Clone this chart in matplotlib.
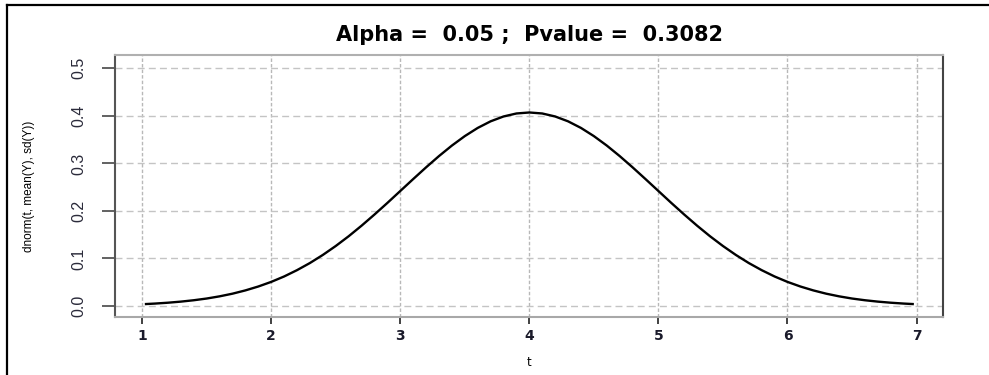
import numpy as np
import matplotlib
matplotlib.use("Agg")
import matplotlib.pyplot as plt
from matplotlib.lines import Line2D

# values (dnorm(t, mean(Y), sd(Y)))
t_vals = [1.03, 1.1, 1.2, 1.3, 1.4, 1.5, 1.6, 1.7, 1.8, 1.9, 2.0, 2.1, 2.2, 2.3, 2.4, 2.5,
          2.6, 2.7, 2.8, 2.9, 3.0, 3.1, 3.2, 3.3, 3.4, 3.5, 3.6, 3.7, 3.8, 3.9, 4.0,
          4.1, 4.2, 4.3, 4.4, 4.5, 4.6, 4.7, 4.8, 4.9, 5.0, 5.1, 5.2, 5.3, 5.4, 5.5,
          5.6, 5.7, 5.8, 5.9, 6.0, 6.1, 6.2, 6.3, 6.4, 6.5, 6.6, 6.7, 6.8, 6.9, 6.97]
dens = [0.0041, 0.0051, 0.0069, 0.0092, 0.0121, 0.0157, 0.0203, 0.0259, 0.0328, 0.0410,
        0.0507, 0.0621, 0.0754, 0.0904, 0.1074, 0.1262, 0.1467, 0.1689, 0.1924, 0.2168,
        0.2419, 0.2670, 0.2917, 0.3154, 0.3375, 0.3574, 0.3746, 0.3885, 0.3987, 0.4050,
        0.4071,
        0.4050, 0.3987, 0.3885, 0.3746, 0.3574, 0.3375, 0.3154, 0.2917, 0.2670, 0.2419,
        0.2168, 0.1924, 0.1689, 0.1467, 0.1262, 0.1074, 0.0904, 0.0754, 0.0621, 0.0507,
        0.0410, 0.0328, 0.0259, 0.0203, 0.0157, 0.0121, 0.0092, 0.0069, 0.0051, 0.0041]

x_ticks = [1, 2, 3, 4, 5, 6, 7]
y_ticks = [0.0, 0.1, 0.2, 0.3, 0.4, 0.5]
y_ticklabels = ["0.0", "0.1", "0.2", "0.3", "0.4", "0.5"]

alpha = 0.05
pvalue = 0.3082

narrow = ["Liberation Sans Narrow", "Liberation Sans", "DejaVu Sans"]

fig = plt.figure(figsize=(9.89, 3.75), dpi=100)
ax = fig.add_axes([0.1163, 0.1555, 0.9535 - 0.1163, 0.8533 - 0.1555])

ax.plot(t_vals, dens, color="black", lw=1.7, zorder=3, solid_joinstyle="round")

ax.set_xlim(0.79, 7.205)
ax.set_ylim(-0.0225, 0.528)

ax.set_xticks(x_ticks)
ax.set_xticklabels([str(v) for v in x_ticks], fontsize=10, fontweight="bold",
                   family="DejaVu Sans", color="#1a1a2a")
ax.set_yticks(y_ticks)
ax.set_yticklabels(y_ticklabels, rotation=90, va="center", fontsize=11.5,
                   family=narrow, color="#2a2a3a")

ax.tick_params(axis="x", length=5, width=1.3, color="#333333", pad=4)
ax.tick_params(axis="y", length=9.5, width=1.3, color="#555555", pad=11)

# grid: dotted verticals, dashed horizontals
for xv in x_ticks:
    ax.axvline(xv, color="#b8b8b8", lw=1.0, ls=(0, (2.5, 1.5)), zorder=1)
for yv in y_ticks:
    ax.axhline(yv, color="#c4c4c4", lw=1.0, ls=(0, (5, 3)), zorder=1)

ax.spines["left"].set_color("#555555")
ax.spines["right"].set_color("#444444")
ax.spines["top"].set_color("#b0b0b0")
ax.spines["bottom"].set_color("#a8a8a8")
for s in ax.spines.values():
    s.set_linewidth(1.5)

ax.set_xlabel("t", fontsize=8.5, family="DejaVu Sans", labelpad=9)
ax.set_ylabel("dnorm(t, mean(Y), sd(Y))", fontsize=8.5, family=narrow, labelpad=26)

fig.text(0.535, 0.907, f"Alpha =  {alpha} ;  Pvalue =  {pvalue}", ha="center", va="center",
         fontsize=15, fontweight="bold", family="DejaVu Sans")

# outer frame of the figure box
fig.add_artist(Line2D([6.5 / 989, 6.5 / 989], [0, 1 - 4.5 / 375], color="black", lw=1.6,
                      transform=fig.transFigure))
fig.add_artist(Line2D([6.5 / 989, 1], [1 - 4.5 / 375, 1 - 4.5 / 375], color="black", lw=1.6,
                      transform=fig.transFigure))

fig.savefig("out.png", dpi=100)
